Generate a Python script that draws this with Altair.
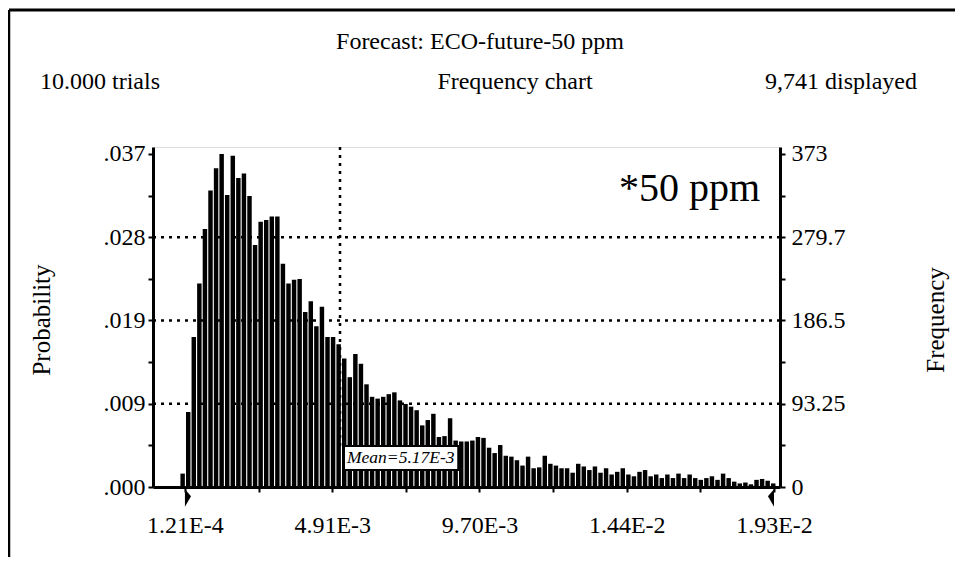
import altair as alt
import pandas as pd

# ---------------- data ----------------
freq = [15, 84, 168, 228, 289, 332, 357, 373, 327, 371,
        346, 351, 326, 271, 297, 299, 303, 303, 250, 228,
        232, 233, 196, 208, 180, 202, 168, 168, 160, 144,
        123, 149, 138, 115, 101, 99, 101, 104, 106, 97,
        93, 90, 86, 69, 75, 82, 56, 57, 77, 52,
        51, 51, 52, 56, 55, 44, 38, 47, 35, 34,
        30, 24, 34, 21, 22, 35, 26, 24, 21, 21,
        16, 26, 23, 19, 23, 16, 21, 14, 17, 21,
        14, 12, 17, 19, 12, 14, 10, 14, 10, 15,
        10, 14, 10, 8, 10, 12, 8, 15, 10, 6,
        4, 5, 3, 8, 9, 7, 4]
FIRST_CENTER = 0.0000462
BIN_W = 0.0001814

x_tick_values = [0.000121, 0.004916, 0.00971, 0.014505, 0.0193]
x_tick_labels = ["1.21E-4", "4.91E-3", "9.70E-3", "1.44E-2", "1.93E-2"]
y_tick_values = [0, 93.25, 186.5, 279.7, 373]
prob_labels = [".000", ".009", ".019", ".028", ".037"]
freq_labels = ["0", "93.25", "186.5", "279.7", "373"]
MEAN = 0.00517
MEAN_TEXT = "Mean=5.17E-3"

X_DOMAIN = [-0.000919, 0.019495]
Y_MAX = 380.8
W, H = 627, 340
FONT = "Liberation Serif"

# ---------------- tables ----------------
bars = pd.DataFrame({
    "x": [FIRST_CENTER + i * BIN_W - 0.4 * BIN_W for i in range(len(freq))],
    "x2": [FIRST_CENTER + i * BIN_W + 0.4 * BIN_W for i in range(len(freq))],
    "f": freq,
})


def mids(vals):
    out = []
    for a, b in zip(vals[:-1], vals[1:]):
        out += [a, (a + b) / 2]
    return out + [vals[-1]]


def label_expr(vals, labels):
    parts = [f"abs(datum.value - ({v})) < {max(abs(v), 1e-3) * 1e-4} ? '{l}'"
             for v, l in zip(vals, labels)]
    return " : ".join(parts) + " : ''"


xscale = alt.Scale(domain=X_DOMAIN, nice=False, zero=False)
yscale = alt.Scale(domain=[0, Y_MAX], nice=False, zero=True)

axis_common = dict(
    labelFont=FONT, labelFontSize=24, labelColor="black",
    domainColor="black", tickColor="black", grid=False, title=None,
)

base = alt.Chart(bars)

bar_layer = base.mark_rect(color="black").encode(
    x=alt.X("x:Q", scale=xscale, axis=alt.Axis(
        values=mids(x_tick_values), labelExpr=label_expr(x_tick_values, x_tick_labels),
        tickSize=5, tickWidth=2, domainWidth=3, labelPadding=21, **axis_common)),
    x2="x2:Q",
    y=alt.Y("f:Q", scale=yscale, axis=alt.Axis(
        values=mids(y_tick_values), labelExpr=label_expr(y_tick_values, prob_labels),
        orient="left", tickSize=5, tickWidth=2, domainWidth=3, labelPadding=3, **axis_common)),
    y2=alt.datum(0),
)

right_axis = alt.Chart(pd.DataFrame({"f": [0]})).mark_point(opacity=0).encode(
    y=alt.Y("f:Q", scale=yscale, axis=alt.Axis(
        values=mids(y_tick_values), labelExpr=label_expr(y_tick_values, freq_labels),
        orient="right", tickSize=5, tickWidth=2, domainWidth=3, labelPadding=6, **axis_common)),
)

grid_df = pd.DataFrame({"f": y_tick_values[1:4]})
grid = alt.Chart(grid_df).mark_rule(color="black", strokeDash=[3, 5], strokeWidth=2.5).encode(
    y=alt.Y("f:Q", scale=yscale, axis=None),
    x=alt.value(0), x2=alt.value(W),
)

mean_rule = alt.Chart(pd.DataFrame({"m": [MEAN]})).mark_rule(
    color="black", strokeDash=[3, 5], strokeWidth=2.5).encode(
    x=alt.X("m:Q", scale=xscale),
    y=alt.value(0),
    y2=alt.value(H - 40),
)

box = alt.Chart(pd.DataFrame({"m": [MEAN + 0.00013], "m2": [MEAN + 0.00013 + 0.00372]})).mark_rect(
    fill="white", stroke="black", strokeWidth=2).encode(
    x=alt.X("m:Q", scale=xscale),
    x2="m2:Q",
    y=alt.value(H - 41),
    y2=alt.value(H - 17),
)

box_text = alt.Chart(pd.DataFrame({"m": [MEAN], "t": [MEAN_TEXT]})).mark_text(
    font=FONT, fontSize=17.5, fontStyle="italic", align="left", baseline="middle", dx=7).encode(
    x=alt.X("m:Q", scale=xscale),
    y=alt.value(H - 29),
    text="t:N",
)

markers = pd.DataFrame({"x": [x_tick_values[0], x_tick_values[-1]], "side": ["L", "R"]})
left_mark = alt.Chart(markers[markers.side == "L"]).mark_point(
    shape="M0,-1 L0.7,-0.2 L0,1 Z", size=300, filled=True, color="black", opacity=1).encode(
    x=alt.X("x:Q", scale=xscale), y=alt.value(H + 11))
right_mark = alt.Chart(markers[markers.side == "R"]).mark_point(
    shape="M0,-1 L-0.7,-0.2 L0,1 Z", size=300, filled=True, color="black", opacity=1).encode(
    x=alt.X("x:Q", scale=xscale), y=alt.value(H + 11))


def txt(s, x, y, size=24, align="center", angle=0):
    return alt.Chart(pd.DataFrame({"t": [s]})).mark_text(
        font=FONT, fontSize=size, align=align, baseline="middle", angle=angle, color="black"
    ).encode(x=alt.value(x), y=alt.value(y), text="t:N")


labels = [
    txt("Forecast: ECO-future-50 ppm", 327, -105),
    txt("10.000 trials", -113, -65, align="left"),
    txt("Frequency chart", 362, -65),
    txt("9,741 displayed", 764, -65, align="right"),
    txt("*50 ppm", 607, 42, size=40, align="right"),
    txt("Probability", -111, 173, size=25, angle=270),
    txt("Frequency", 783, 173, size=25, angle=270),
]

frame = [
    alt.Chart(pd.DataFrame({"a": [0]})).mark_rule(color="black", strokeWidth=3).encode(
        x=alt.value(-144), x2=alt.value(W + 180), y=alt.value(-137)),
    alt.Chart(pd.DataFrame({"a": [0]})).mark_rule(color="black", strokeWidth=2.5).encode(
        x=alt.value(-144), y=alt.value(-137), y2=alt.value(H + 80)),
]

chart = alt.layer(
    grid, mean_rule, bar_layer, box, box_text, left_mark, right_mark, right_axis,
    *labels, *frame
).resolve_scale(y="independent").properties(
    width=W, height=H,
    autosize=alt.AutoSizeParams(type="none"),
    padding={"left": 145, "top": 139, "right": 175, "bottom": 70},
).configure_view(stroke="black", strokeWidth=2).configure(background="white")

chart.save("out.html", embed_options={"renderer": "svg", "actions": False})
